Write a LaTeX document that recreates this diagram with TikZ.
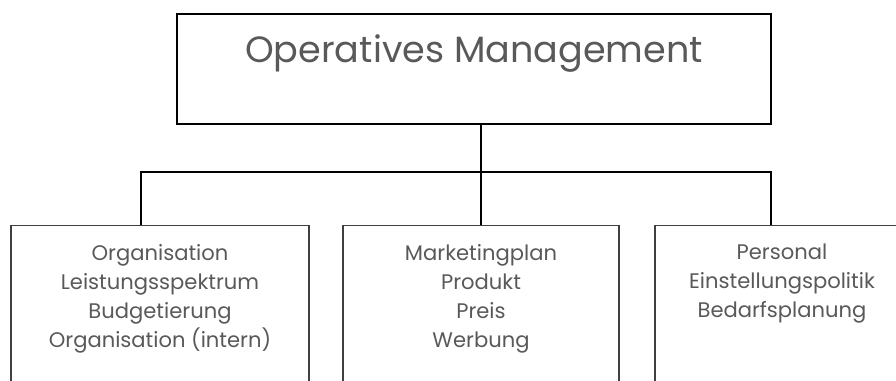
\documentclass[tikz,border=0pt]{standalone}
\usepackage{fontspec}
\setmainfont{Poppins}
\usetikzlibrary{calc}

\definecolor{txtgray}{HTML}{595959}
\definecolor{boxgray}{HTML}{404040}

\tikzset{
  headbox/.style={draw=black,line width=1.1pt,minimum width=14.85cm,minimum height=2.75cm,inner sep=0pt},
  areabox/.style={draw=boxgray,line width=0.8pt,minimum height=5cm,inner sep=0pt,anchor=north},
  areatext/.style={text=txtgray,align=center,anchor=north,inner sep=0pt,
    font=\fontsize{15}{20.6}\selectfont},
  conn/.style={draw=black,line width=1.5pt}
}

\begin{document}
\begin{tikzpicture}[x=0.025cm,y=-0.025cm]
  \clip (0,0) rectangle (896,381);
  \useasboundingbox (0,0) rectangle (896,381);

  % top
  \node[headbox] (top) at (474,69) {};
  \node[text=txtgray,anchor=base,inner sep=0pt,font=\fontsize{26}{32}\selectfont] (title) at (474,63) {Operatives Management};

  % areas
  \node[areabox,minimum width=7.45cm] (lb) at (160,225) {};
  \node[areabox,minimum width=6.9cm] (mb) at (481,225) {};
  \node[areabox,minimum width=6.35cm] (rb) at (782,225) {};

  \node[areatext] (lt) at (160,244) {Organisation\\Leistungsspektrum\\Budgetierung\\Organisation (intern)};
  \node[areatext] (mt) at (481,244) {Marketingplan\\Produkt\\Preis\\Werbung};
  \node[areatext] (rt) at (782,244) {Personal\\Einstellungspolitik\\Bedarfsplanung};

  % lines
  \coordinate (bus) at (481,172);
  \draw[conn] (top.south -| mb.north) -- (mb.north);
  \draw[conn] ($(lb.north)+(-19,0)$) |- (bus) -| ($(rb.north)+(-11,0)$);
\end{tikzpicture}
\end{document}
